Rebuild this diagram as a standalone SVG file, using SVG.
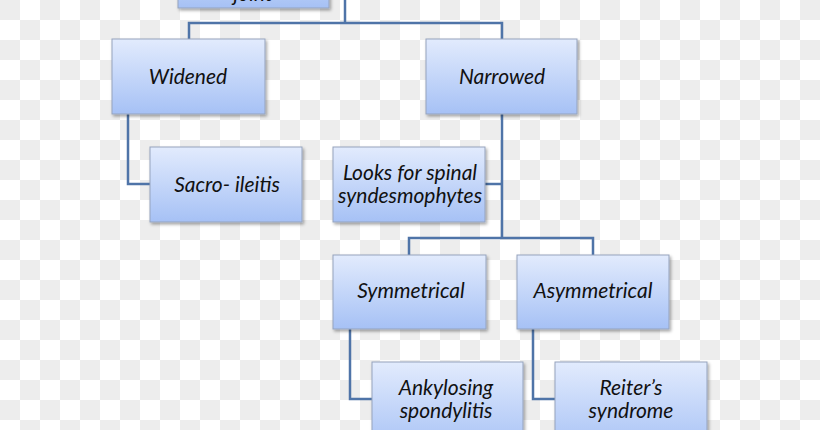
<svg xmlns="http://www.w3.org/2000/svg" width="820" height="430" viewBox="0 0 820 430">
<defs>
<pattern id="checker" x="0" y="0" width="40" height="40" patternUnits="userSpaceOnUse">
<rect width="40" height="40" fill="#ffffff"/>
<rect x="0" y="0" width="20" height="20" fill="#ededed"/>
<rect x="20" y="20" width="20" height="20" fill="#ededed"/>
</pattern>
<linearGradient id="boxfill" x1="0" y1="0" x2="0" y2="1">
<stop offset="0" stop-color="#e2ebfd"/>
<stop offset="1" stop-color="#a6c1f5"/>
</linearGradient>
<filter id="shadow" x="-10%" y="-10%" width="130%" height="140%">
<feDropShadow dx="1.5" dy="2" stdDeviation="1.5" flood-color="#000000" flood-opacity="0.35"/>
</filter>
<style>
.box { fill: url(#boxfill); stroke: #95a3bd; stroke-width: 1; filter: url(#shadow); }
.lbl { font-family: Lato, "Open Sans", "Liberation Sans", sans-serif; font-style: italic; font-size: 21px; fill: #111111; text-anchor: middle; }
.conn { fill: none; stroke: #4f74a8; stroke-width: 2.5; }
</style>
</defs>
<rect width="820" height="430" fill="url(#checker)"/>
<g id="connectors">
<polyline class="conn" points="345,0 345,23"/>
<polyline class="conn" points="189,40 189,23 502,23 502,40"/>
<polyline class="conn" points="128,114 128,184 150,184"/>
<polyline class="conn" points="502,114 502,238"/>
<polyline class="conn" points="485,184 502,184"/>
<polyline class="conn" points="409,255 409,238 593,238 593,255"/>
<polyline class="conn" points="350,329 350,399 372,399"/>
<polyline class="conn" points="533,329 533,399 555,399"/>
</g>
<g id="node-joint">
<rect class="box" x="178" y="-60" width="151" height="68"/>
<text class="lbl" x="253" y="1">joint</text>
</g>
<g id="node-widened">
<rect class="box" x="112" y="39" width="153" height="75"/>
<text class="lbl" x="188" y="84">Widened</text>
</g>
<g id="node-narrowed">
<rect class="box" x="426" y="39" width="151" height="75"/>
<text class="lbl" x="502" y="84">Narrowed</text>
</g>
<g id="node-sacro">
<rect class="box" x="150" y="147" width="152" height="75"/>
<text class="lbl" x="227" y="192">Sacro- ileitis</text>
</g>
<g id="node-looks">
<rect class="box" x="333" y="147" width="152" height="75"/>
<text class="lbl" x="410" y="180">Looks for spinal</text>
<text class="lbl" x="410" y="203">syndesmophytes</text>
</g>
<g id="node-symmetrical">
<rect class="box" x="333" y="255" width="153" height="74"/>
<text class="lbl" x="411" y="298">Symmetrical</text>
</g>
<g id="node-asymmetrical">
<rect class="box" x="517" y="255" width="152" height="74"/>
<text class="lbl" x="593" y="298">Asymmetrical</text>
</g>
<g id="node-ankylosing">
<rect class="box" x="372" y="362" width="151" height="90"/>
<text class="lbl" x="446" y="395">Ankylosing</text>
<text class="lbl" x="446" y="418">spondylitis</text>
</g>
<g id="node-reiters">
<rect class="box" x="555" y="362" width="152" height="90"/>
<text class="lbl" x="631" y="395">Reiter’s</text>
<text class="lbl" x="631" y="418">syndrome</text>
</g>
</svg>
